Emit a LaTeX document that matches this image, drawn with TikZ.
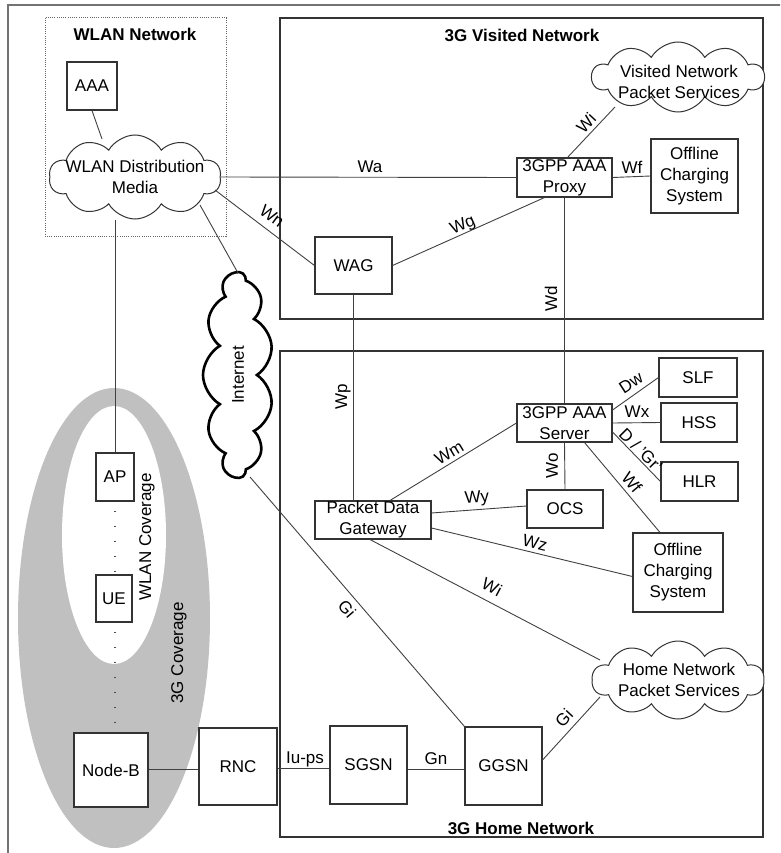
\documentclass[tikz,border=0pt]{standalone}
\usepackage{fontspec}
\setmainfont{Liberation Sans}
\usetikzlibrary{shapes.symbols,calc}
\definecolor{cov}{HTML}{C0C0C0}
\begin{document}
\begin{tikzpicture}[x=1pt,y=-1pt,
  font=\fontsize{17}{21}\selectfont,
  box/.style={draw=black!80, line width=1.1pt, fill=white, inner sep=0pt, align=center},
  conn/.style={draw=black!75, line width=0.9pt},
  puff/.style={cloud, draw=black!80, line width=1pt, cloud puffs=10, cloud puff arc=120, cloud ignores aspect, inner sep=0pt, fill=white},
  lbl/.style={inner sep=0pt, align=center},
  ttl/.style={inner sep=0pt, font=\fontsize{17}{21}\selectfont\bfseries},
  netbox/.style={draw=black!80, line width=1.1pt},
  wlanbox/.style={draw=black!60, line width=1pt, dash pattern=on 1pt off 1.2pt},
  dotline/.style={draw=black!70, line width=1.6pt, dash pattern=on 0pt off 9pt on 1.6pt off 4.4pt}
]
\useasboundingbox (0,0) rectangle (780,853);
\clip (0,0) rectangle (780,853);
% outer frame
\draw[draw=black!55, line width=2pt] (8,5) rectangle (800,880);
% coverage ellipses
\fill[cov] (114,618) ellipse [x radius=96, y radius=230];
\fill[white] (114,535) ellipse [x radius=52, y radius=129];
\node[lbl, rotate=90] (wcov) at (147,537) {WLAN Coverage};
\node[lbl, rotate=90] (gcov) at (179,653) {3G Coverage};
% network areas
\draw[wlanbox] (45,18) rectangle (226,236);
\node[ttl] (twlan) at (135,34) {WLAN Network};
\draw[netbox] (280,18) rectangle (763,319);
\node[ttl] (tvis) at (522,35) {3G Visited Network};
\draw[netbox] (280,351) rectangle (763,837);
\node[ttl] (thome) at (521,828) {3G Home Network};
% WLAN network
\node[box, minimum width=50, minimum height=48] (aaa) at (92,86) {AAA};
\node[puff, minimum width=172, minimum height=84] (wdm) at (135,177) {};
\node[lbl] (wdmt) at (135,177) {WLAN Distribution\\Media};
% visited network
\node[puff, minimum width=172, minimum height=70] (vcl) at (678,77) {};
\node[lbl] (vclt) at (679,82) {Visited Network\\Packet Services};
\node[box, minimum width=95, minimum height=39] (proxy) at (564.5,177.5) {3GPP AAA\\Proxy};
\node[box, minimum width=87, minimum height=74] (offv) at (694.5,176) {Offline\\Charging\\System};
\node[box, minimum width=77, minimum height=57] (wag) at (353.5,265.5) {WAG};
% internet
\node[cloud, draw=black, line width=2.6pt, cloud puffs=11, cloud puff arc=120, cloud ignores aspect, inner sep=0pt, fill=white, rotate=90, minimum width=205, minimum height=70] (inet) at (238,375) {Internet};
% home network
\node[box, minimum width=116, minimum height=38] (pdg) at (373,520) {Packet Data\\Gateway};
\node[box, minimum width=95, minimum height=38] (server) at (564.5,423) {3GPP AAA\\Server};
\node[box, minimum width=78, minimum height=39] (slf) at (698,377.5) {SLF};
\node[box, minimum width=76, minimum height=39] (hss) at (699,422.5) {HSS};
\node[box, minimum width=77, minimum height=39] (hlr) at (699.5,481.5) {HLR};
\node[box, minimum width=76, minimum height=38] (ocs) at (565,509) {OCS};
\node[box, minimum width=90, minimum height=79] (offh) at (678,572.5) {Offline\\Charging\\System};
\node[puff, minimum width=172, minimum height=78] (hcl) at (678,680) {};
\node[lbl] (hclt) at (679,680) {Home Network\\Packet Services};
\node[box, minimum width=77, minimum height=78] (ggsn) at (503.5,766) {GGSN};
\node[box, minimum width=77, minimum height=78] (sgsn) at (368.5,765) {SGSN};
\node[box, minimum width=78, minimum height=77] (rnc) at (238,766.5) {RNC};
% access
\node[box, minimum width=74, minimum height=74] (nodeb) at (111,770) {Node-B};
\node[box, minimum width=38, minimum height=48] (ap) at (115,477) {AP};
\node[box, minimum width=36, minimum height=47] (ue) at (114,598.5) {UE};
% connectors
\draw[conn] (aaa.south) -- ($(wdm.center)+(-33,-38)$);
\draw[conn] (wdm.east) -- (proxy.west);
\draw[conn] ($(wdm.center)+(80,13)$) -- (wag.west);
\draw[conn] ($(wdm.center)+(65,28)$) -- ($(inet.center)+(0,-102)$);
\draw[conn] (ap.north |- wdm.south) -- (ap.north);
\draw[dotline] (ap.south) -- (ap.south |- ue.north);
\draw[dotline] (ap.south |- ue.south) -- (ap.south |- nodeb.north);
\draw[conn] (proxy.east) -- (offv.west);
\draw[conn] ($(proxy.north)+(3,0)$) -- ($(vcl.center)+(-63,30)$);
\draw[conn] (wag.east) -- ($(proxy.south)+(-20,0)$);
\draw[conn] (proxy.south) -- (server.north);
\draw[conn] (wag.south) -- (wag.south |- pdg.north);
\draw[conn] ($(server.east)+(0,-13)$) -- (slf.west);
\draw[conn] (server.east) -- (hss.west);
\draw[conn] ($(server.east)+(0,9)$) -- (hlr.west);
\draw[conn] ($(server.south)+(20,0)$) -- ($(offh.north)+(-18,0)$);
\draw[conn] (server.south) -- (ocs.north);
\draw[conn] ($(pdg.north)+(17,0)$) -- (server.west);
\draw[conn] ($(pdg.east)+(0,-7)$) -- ($(ocs.west)+(0,-3)$);
\draw[conn] ($(pdg.east)+(0,8)$) -- ($(offh.west)+(0,4)$);
\draw[conn] ($(pdg.south)+(-3,0)$) -- ($(hcl.center)+(-78,-20)$);
\draw[conn] ($(inet.center)+(12,102)$) -- (ggsn.north west);
\draw[conn] ($(ggsn.east)+(0,-6)$) -- ($(hcl.center)+(-78,17)$);
\draw[conn] ($(sgsn.east)+(0,4)$) -- ($(sgsn.east -| ggsn.west)+(0,4)$);
\draw[conn] ($(rnc.east)+(0,2)$) -- ($(rnc.east -| sgsn.west)+(0,2)$);
\draw[conn] ($(nodeb.east)+(0,-1)$) -- ($(nodeb.east -| rnc.west)+(0,-1)$);
% connector labels
\node[lbl] (lwa) at (370,167) {Wa};
\node[lbl, rotate=-36] (lwn) at (272,216) {Wn};
\node[lbl, rotate=24] (lwg) at (463,226) {Wg};
\node[lbl, rotate=47] (lwi) at (586,123) {Wi};
\node[lbl] (lwf) at (632,167) {Wf};
\node[lbl, rotate=90] (lwd) at (551,299) {Wd};
\node[lbl, rotate=90] (lwp) at (343,397) {Wp};
\node[lbl, rotate=33] (ldw) at (631,383) {Dw};
\node[lbl] (lwx) at (637,412) {Wx};
\node[lbl, rotate=-45] (ldgr) at (641,450) {D / 'Gr'};
\node[lbl, rotate=-50] (lwf2) at (632,482) {Wf};
\node[lbl, rotate=90] (lwo) at (552,466) {Wo};
\node[lbl, rotate=31] (lwm) at (449,453) {Wm};
\node[lbl, rotate=4] (lwy) at (477,499) {Wy};
\node[lbl, rotate=-14] (lwz) at (535,543) {Wz};
\node[lbl, rotate=-28] (lwi2) at (492,587) {Wi};
\node[lbl, rotate=-49] (lgi) at (347,609) {Gi};
\node[lbl, rotate=47] (lgi2) at (564,718) {Gi};
\node[lbl] (lgn) at (436,759) {Gn};
\node[lbl] (liu) at (305,759) {Iu-ps};
\end{tikzpicture}
\end{document}
